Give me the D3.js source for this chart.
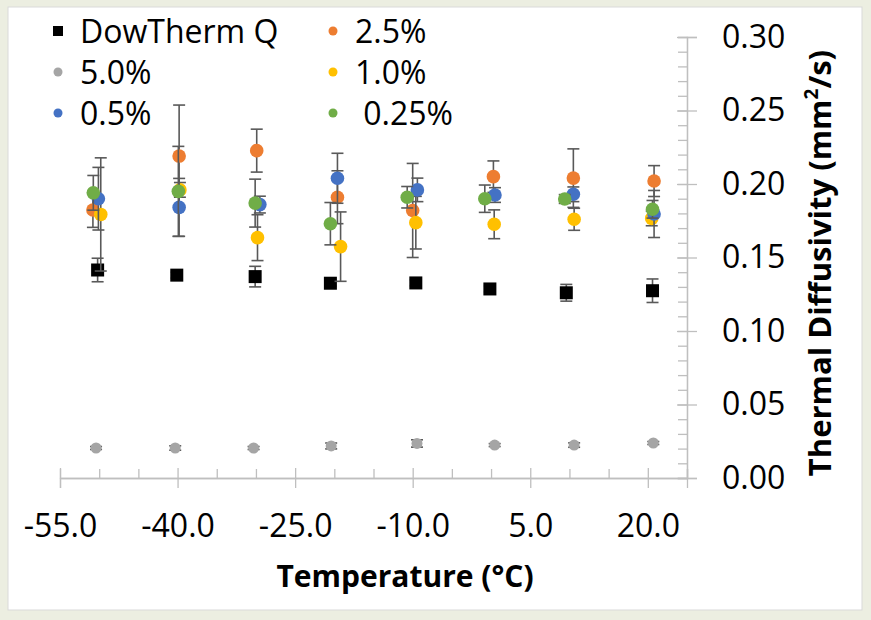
<!DOCTYPE html>
<html>
<head>
<meta charset="utf-8">
<script src="https://cdn.jsdelivr.net/npm/d3@7"></script>
<style>
  body { margin: 0; background: #eceee1; }
  svg { display: block; font-family: 'Open Sans', Lato, sans-serif; }
</style>
</head>
<body>
<svg id="chart" width="871" height="620"></svg>
<script>
// series, in the order Excel plotted them
const seriesNames = ['DowTherm Q', '2.5%', '5.0%', '1.0%', '0.5%', ' 0.25%'];
const seriesColors = ['#000000', '#ed7d31', '#a5a5a5', '#ffc000', '#4472c4', '#70ad47'];

const dowThermTemps = [-50.2, -40.1, -30.1, -20.5, -9.6, -0.15, 9.6, 20.6];
const dowThermValues = [0.1415, 0.138, 0.137, 0.1325, 0.1327, 0.1286, 0.126, 0.1274];
const dowThermErrors = [0.008, 0.002, 0.007, 0.002, 0.002, 0.002, 0.0057, 0.008];

const pct25Temps = [-50.8, -39.8, -29.9, -19.6, -10.0, 0.3, 10.5, 20.8];
const pct25Values = [0.1823, 0.219, 0.2227, 0.191, 0.182, 0.205, 0.204, 0.202];
const pct25Errors = [0.0118, 0.0347, 0.0146, 0.018, 0.032, 0.0107, 0.0199, 0.0105];

const pct50Temps = [-50.4, -40.3, -30.3, -20.4, -9.45, 0.46, 10.6, 20.7];
const pct50Values = [0.0204, 0.0204, 0.0204, 0.0218, 0.0235, 0.0224, 0.0224, 0.0238];
const pct50Errors = [0.001, 0.0015, 0.001, 0.002, 0.0025, 0.001, 0.0015, 0.001];

const pct10Temps = [-49.8, -39.7, -29.8, -19.2, -9.6, 0.4, 10.6, 20.5];
const pct10Values = [0.1793, 0.196, 0.1635, 0.1574, 0.1737, 0.1726, 0.176, 0.1766];
const pct10Errors = [0.0385, 0.005, 0.0156, 0.0236, 0.0179, 0.0098, 0.0075, 0.005];

const pct05Temps = [-50.1, -39.8, -29.5, -19.6, -9.4, 0.5, 10.5, 20.8];
const pct05Values = [0.19, 0.1841, 0.186, 0.2039, 0.196, 0.1925, 0.193, 0.1796];
const pct05Errors = [0.0213, 0.0197, 0.0057, 0.017, 0.008, 0.005, 0.005, 0.016];

const pct025Temps = [-50.75, -39.9, -30.1, -20.5, -10.7, -0.8, 9.4, 20.6];
const pct025Values = [0.194, 0.195, 0.187, 0.173, 0.191, 0.19, 0.1898, 0.1828];
const pct025Errors = [0.0118, 0.0306, 0.0163, 0.0144, 0.0073, 0.0093, 0.003, 0.006];

const xTicks = [-55, -40, -25, -10, 5, 20];
const xMinorTicks = [-50, -45, -35, -30, -20, -15, -5, 0, 10, 15, 25];
const yTicks = [0, 0.05, 0.1, 0.15, 0.2, 0.25, 0.3];
const yMinorTicks = d3.range(0, 0.301, 0.01);

const allTemps = [dowThermTemps, pct25Temps, pct50Temps, pct10Temps, pct05Temps, pct025Temps];
const allValues = [dowThermValues, pct25Values, pct50Values, pct10Values, pct05Values, pct025Values];
const allErrors = [dowThermErrors, pct25Errors, pct50Errors, pct10Errors, pct05Errors, pct025Errors];

const series = seriesNames.map((name, i) => ({
  name,
  color: seriesColors[i],
  square: i === 0,
  r: i === 2 ? 5.5 : 6.8,
  points: allTemps[i].map((t, j) => ({ t, v: allValues[i][j], e: allErrors[i][j] }))
}));

const svg = d3.select('#chart');
const axisColor = '#bfbfbf';
const errColor = '#595959';

// white chart panel on the beige page
svg.append('rect')
  .attr('x', 8).attr('y', 7)
  .attr('width', 854).attr('height', 603)
  .attr('fill', '#ffffff')
  .attr('stroke', '#d9d9d9');

const x = d3.scaleLinear().domain([-55, 25]).range([60, 687]);
const y = d3.scaleLinear().domain([0, 0.3]).range([478, 37]);

/* ------------------------------ x axis ------------------------------ */
const gxMinor = svg.append('g')
  .attr('transform', `translate(0,${y(0)})`)
  .call(d3.axisBottom(x).tickValues(xMinorTicks).tickSize(-9).tickFormat(''));

const gx = svg.append('g')
  .attr('transform', `translate(0,${y(0)})`)
  .call(d3.axisBottom(x).tickValues(xTicks).tickSize(10).tickPadding(26)
    .tickFormat((d) => d.toFixed(1)));
gx.selectAll('.tick line').attr('y1', -10);

/* ------------------------------ y axis ------------------------------ */
const gyMinor = svg.append('g')
  .attr('transform', `translate(${x(25)},0)`)
  .call(d3.axisRight(y).tickValues(yMinorTicks).tickSize(-9).tickFormat(''));

const gy = svg.append('g')
  .attr('transform', `translate(${x(25)},0)`)
  .call(d3.axisRight(y).tickValues(yTicks).tickSize(10).tickPadding(25)
    .tickFormat((d) => d.toFixed(2)));
gy.selectAll('.tick line').attr('x1', -10);

[gx, gy, gxMinor, gyMinor].forEach((g) => {
  g.select('.domain').attr('stroke', axisColor).attr('stroke-width', 1.3);
  g.selectAll('.tick line').attr('stroke', axisColor).attr('stroke-width', 1.3);
  g.selectAll('.tick text')
    .attr('fill', '#000')
    .style('font-size', '32px')
    .style('font-family', "'Open Sans', sans-serif");
});

/* ---------------------------- axis titles ---------------------------- */
svg.append('text')
  .attr('x', 405).attr('y', 587)
  .attr('text-anchor', 'middle')
  .style('font-size', '30px')
  .style('font-weight', 'bold')
  .text('Temperature (°C)');

const yTitle = svg.append('text')
  .attr('transform', 'translate(820,263) rotate(-90)')
  .attr('dy', '0.35em')
  .attr('text-anchor', 'middle')
  .style('font-size', '31px')
  .style('font-weight', 'bold');
yTitle.append('tspan').text('Thermal Diffusivity (mm');
yTitle.append('tspan').attr('baseline-shift', 'super').style('font-size', '19px').text('2');
yTitle.append('tspan').text('/s)');

/* ------------------------------ series ------------------------------ */
series.forEach((s) => {
  const g = svg.append('g');

  const bars = g.selectAll('g.err')
    .data(s.points)
    .enter()
    .append('g')
    .attr('stroke', errColor)
    .attr('stroke-width', 1.6);
  bars.append('line')
    .attr('x1', (d) => x(d.t)).attr('x2', (d) => x(d.t))
    .attr('y1', (d) => y(d.v + d.e)).attr('y2', (d) => y(d.v - d.e));
  bars.append('line')
    .attr('x1', (d) => x(d.t) - 6).attr('x2', (d) => x(d.t) + 6)
    .attr('y1', (d) => y(d.v + d.e)).attr('y2', (d) => y(d.v + d.e));
  bars.append('line')
    .attr('x1', (d) => x(d.t) - 6).attr('x2', (d) => x(d.t) + 6)
    .attr('y1', (d) => y(d.v - d.e)).attr('y2', (d) => y(d.v - d.e));

  if (s.square) {
    g.selectAll('rect')
      .data(s.points)
      .enter()
      .append('rect')
      .attr('x', (d) => x(d.t) - 6.5)
      .attr('y', (d) => y(d.v) - 6.5)
      .attr('width', 13).attr('height', 13)
      .attr('fill', s.color);
  } else {
    g.selectAll('circle')
      .data(s.points)
      .enter()
      .append('circle')
      .attr('cx', (d) => x(d.t))
      .attr('cy', (d) => y(d.v))
      .attr('r', s.r)
      .attr('fill', s.color);
  }
});

/* ------------------------------ legend ------------------------------ */
// Excel lays the legend out in two columns, row by row
const legend = svg.append('g').style('font-size', '32px');
series.forEach((s, i) => {
  const col = i % 2;
  const row = Math.floor(i / 2);
  const lx = col === 0 ? 58 : 333;
  const ly = 31 + row * 41;
  const item = legend.append('g').attr('transform', `translate(${lx},${ly})`);
  if (s.square) {
    item.append('rect').attr('x', -5).attr('y', -5).attr('width', 10).attr('height', 10).attr('fill', s.color);
  } else {
    item.append('circle').attr('r', 4.5).attr('fill', s.color);
  }
  item.append('text')
    .attr('x', 22)
    .attr('dy', '0.36em')
    .attr('xml:space', 'preserve')
    .style('white-space', 'pre')
    .text(s.name);
});
</script>
</body>
</html>
